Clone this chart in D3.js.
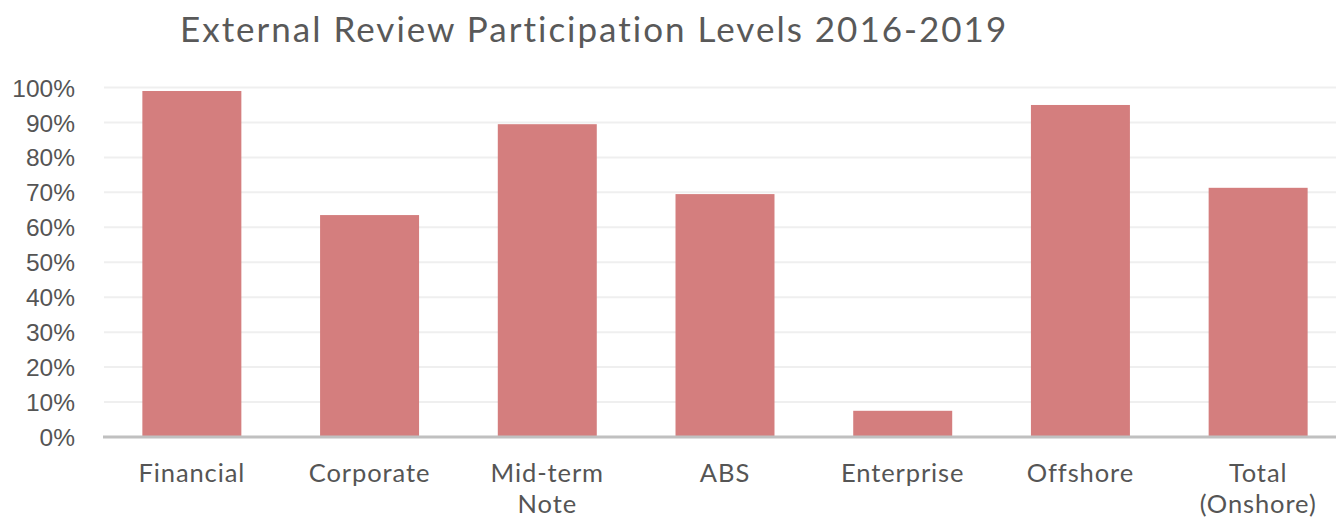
<!DOCTYPE html>
<html><head><meta charset="utf-8">
<script src="https://cdn.jsdelivr.net/npm/d3@7"></script>
<style>body{margin:0;background:#fff}svg{display:block}</style>
</head><body>
<svg id="chart" width="1336" height="518"></svg>
<script>
const categories = ["Financial", "Corporate", "Mid-term\nNote", "ABS", "Enterprise", "Offshore", "Total\n(Onshore)"];
const values = [0.99, 0.635, 0.895, 0.695, 0.075, 0.95, 0.713];
const yTicks = [0, 0.1, 0.2, 0.3, 0.4, 0.5, 0.6, 0.7, 0.8, 0.9, 1.0];
const title = "External Review Participation Levels 2016-2019";

const svg = d3.select("#chart");
const x = d3.scaleBand().domain(categories).range([103, 1347]).paddingInner(0.443).paddingOuter(0.2215);
const y = d3.scaleLinear().domain([0, 1]).range([437, 87.5]);

// gridlines
svg.append("g").selectAll("line").data(yTicks.slice(1)).join("line")
  .attr("x1", 104).attr("x2", 1336)
  .attr("y1", d => y(d)).attr("y2", d => y(d))
  .attr("stroke", "#efefef").attr("stroke-width", 2);

// bars
svg.append("g").selectAll("rect").data(values).join("rect")
  .attr("x", (d, i) => x(categories[i]))
  .attr("width", x.bandwidth())
  .attr("y", d => y(d))
  .attr("height", d => y(0) - y(d))
  .attr("fill", "#d47e7e");

// axis line
svg.append("line").attr("x1", 103).attr("x2", 1336).attr("y1", y(0)).attr("y2", y(0))
  .attr("stroke", "#c0c0c0").attr("stroke-width", 3);

// y axis labels
const yAxis = d3.axisLeft(y).tickValues(yTicks).tickFormat(d3.format(".0%")).tickSize(0).tickPadding(0);
const ya = svg.append("g").attr("transform", "translate(75,0)").call(yAxis);
ya.select(".domain").remove();
ya.selectAll("text").attr("font-family", "Liberation Sans, Arial, sans-serif")
  .attr("font-size", 24.5).attr("fill", "#555").attr("dy", "0.35em");

// x labels
const xl = svg.append("g").selectAll("text").data(categories).join("text")
  .attr("x", d => x(d) + x.bandwidth() / 2)
  .attr("y", 482)
  .attr("text-anchor", "middle")
  .attr("font-family", "Lato, 'Noto Sans', sans-serif")
  .attr("font-size", 25.5).attr("fill", "#555").attr("letter-spacing", 0.9);
xl.each(function(d) {
  const lines = d.split("\n");
  d3.select(this).selectAll("tspan").data(lines).join("tspan")
    .attr("x", x(d) + x.bandwidth() / 2)
    .attr("dy", (l, i) => i === 0 ? 0 : 31)
    .text(l => l);
});

// title
svg.append("text").attr("x", 180).attr("y", 42)
  .attr("font-family", "Lato, 'Noto Sans', sans-serif")
  .attr("font-size", 35).attr("fill", "#595959").attr("letter-spacing", 2)
  .text(title);
</script>
</body></html>
